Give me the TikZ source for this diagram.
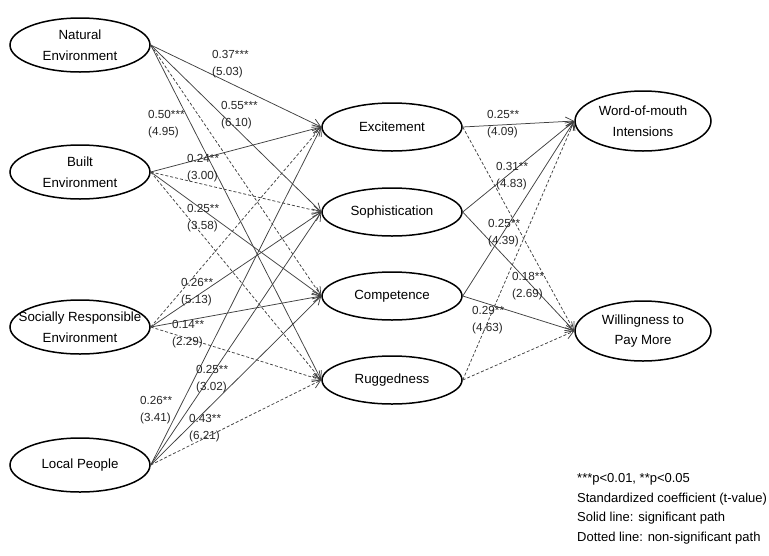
\documentclass[tikz,border=0pt]{standalone}
\usepackage{fontspec}
\setmainfont{Liberation Sans}
\usetikzlibrary{shapes.geometric,arrows.meta}
\begin{document}
\begin{tikzpicture}[x=1pt,y=-1pt,
  latent/.style={ellipse,draw=black,line width=1.5pt,inner sep=0pt,minimum width=140pt,minimum height=54pt},
  midlat/.style={latent,minimum height=48pt},
  rightlat/.style={latent,minimum width=136pt,minimum height=60pt},
  ntext/.style={align=center,inner sep=0pt,font=\fontsize{13.3}{20.5}\selectfont},
  sigpath/.style={draw=black!75,line width=0.75pt,-{Straight Barb[length=8pt,width=9pt]}},
  nspath/.style={sigpath,dash pattern=on 3pt off 2pt},
  coef/.style={anchor=west,align=left,inner sep=0pt,font=\fontsize{11.7}{17}\selectfont,text=black!85},
  legend/.style={anchor=base west,inner sep=0pt,font=\fontsize{13}{16}\selectfont}
]
\useasboundingbox (0,0) rectangle (769,555);

% left latent variables
\node[latent] (ne) at (80,45) {};
\node[ntext] (net) at (ne) {Natural\\Environment};
\node[latent] (be) at (80,172) {};
\node[ntext] (bet) at (be) {Built\\Environment};
\node[latent] (se) at (80,327) {};
\node[ntext] (set) at (se) {Socially Responsible\\Environment};
\node[latent] (lp) at (80,465) {};
\node[ntext] (lpt) at (lp) {Local People};

% middle latent variables
\node[midlat] (exc) at (392,127) {};
\node[ntext] (exct) at (exc) {Excitement};
\node[midlat] (soph) at (392,212) {};
\node[ntext] (sopht) at (soph) {Sophistication};
\node[midlat] (comp) at (392,296) {};
\node[ntext] (compt) at (comp) {Competence};
\node[midlat] (rug) at (392,380) {};
\node[ntext] (rugt) at (rug) {Ruggedness};

% right latent variables
\node[rightlat] (wom) at (643,121) {};
\node[ntext] (womt) at (wom) {Word-of-mouth\\Intensions};
\node[rightlat] (wtp) at (643,331) {};
\node[ntext] (wtpt) at (wtp) {Willingness to\\Pay More};

% paths left -> middle
\draw[sigpath] (ne.east) -- (exc.west);
\draw[sigpath] (ne.east) -- (soph.west);
\draw[nspath]  (ne.east) -- (comp.west);
\draw[sigpath] (ne.east) -- (rug.west);
\draw[sigpath] (be.east) -- (exc.west);
\draw[nspath]  (be.east) -- (soph.west);
\draw[sigpath] (be.east) -- (comp.west);
\draw[nspath]  (be.east) -- (rug.west);
\draw[nspath]  (se.east) -- (exc.west);
\draw[sigpath] (se.east) -- (soph.west);
\draw[sigpath] (se.east) -- (comp.west);
\draw[nspath]  (se.east) -- (rug.west);
\draw[sigpath] (lp.east) -- (exc.west);
\draw[sigpath] (lp.east) -- (soph.west);
\draw[sigpath] (lp.east) -- (comp.west);
\draw[nspath]  (lp.east) -- (rug.west);

% paths middle -> right
\draw[sigpath] (exc.east) -- (wom.west);
\draw[nspath]  (exc.east) -- (wtp.west);
\draw[sigpath] (soph.east) -- (wom.west);
\draw[sigpath] (soph.east) -- (wtp.west);
\draw[sigpath] (comp.east) -- (wom.west);
\draw[sigpath] (comp.east) -- (wtp.west);
\draw[nspath]  (rug.east) -- (wom.west);
\draw[nspath]  (rug.east) -- (wtp.west);

% coefficients
\node[coef] (c1) at (212,64) {0.37***\\(5.03)};
\node[coef] (c2) at (221,115) {0.55***\\(6.10)};
\node[coef] (c3) at (148,124) {0.50***\\(4.95)};
\node[coef] (c4) at (187,168) {0.24**\\(3.00)};
\node[coef] (c5) at (187,218) {0.25**\\(3.58)};
\node[coef] (c6) at (181,292) {0.26**\\(5.13)};
\node[coef] (c7) at (172,334) {0.14**\\(2.29)};
\node[coef] (c8) at (196,379) {0.25**\\(3.02)};
\node[coef] (c9) at (140,410) {0.26**\\(3.41)};
\node[coef] (c10) at (189,428) {0.43**\\(6.21)};
\node[coef] (c11) at (487,124) {0.25**\\(4.09)};
\node[coef] (c12) at (496,176) {0.31**\\(4.83)};
\node[coef] (c13) at (488,233) {0.25**\\(4.39)};
\node[coef] (c14) at (512,286) {0.18**\\(2.69)};
\node[coef] (c15) at (472,320) {0.29**\\(4.63)};

% legend
\node[legend] (l1) at (577,482) {***p<0.01, **p<0.05};
\node[legend] (l2) at (577,502) {Standardized coefficient (t-value)};
\node[legend] (l3) at (577,521) {Solid line: significant path};
\node[legend] (l4) at (577,541) {Dotted line: non-significant path};
\end{tikzpicture}
\end{document}
